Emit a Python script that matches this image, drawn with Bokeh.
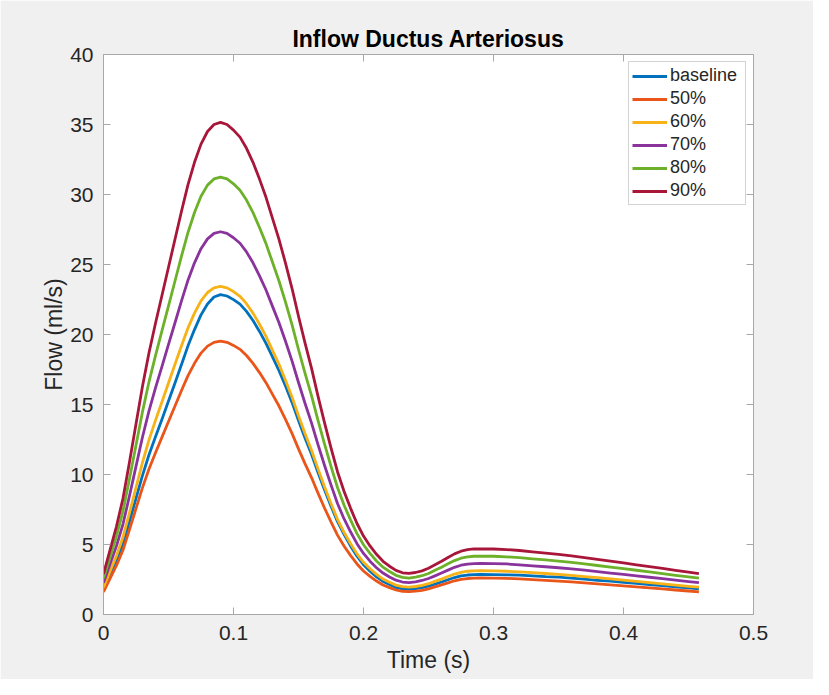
from bokeh.plotting import figure
from bokeh.models import (LinearAxis, FixedTicker, CustomJSTickFormatter, Legend,
                          LegendItem, Range1d)
from bokeh.embed import file_html
from bokeh.resources import INLINE

# ---- data ----
time_s = [0.000, 0.005, 0.010, 0.015, 0.020, 0.025, 0.030, 0.035, 0.040, 0.045,
          0.050, 0.055, 0.060, 0.065, 0.070, 0.075, 0.080, 0.085, 0.090, 0.095,
          0.100, 0.105, 0.110, 0.115, 0.120, 0.125, 0.130, 0.135, 0.140, 0.145,
          0.150, 0.155, 0.160, 0.165, 0.170, 0.175, 0.180, 0.185, 0.190, 0.195,
          0.200, 0.205, 0.210, 0.215, 0.220, 0.225, 0.230, 0.235, 0.240, 0.245,
          0.250, 0.255, 0.260, 0.265, 0.270, 0.275, 0.280, 0.285, 0.290, 0.300,
          0.310, 0.320, 0.330, 0.340, 0.350, 0.360, 0.370, 0.380, 0.390, 0.400,
          0.410, 0.420, 0.430, 0.440, 0.450, 0.458]

flow_baseline = [1.83, 2.85, 3.87, 5.06, 6.65, 8.3, 9.94, 11.41, 12.69, 13.95,
                 15.25, 16.54, 17.86, 19.19, 20.35, 21.4, 22.18, 22.68, 22.85, 22.75,
                 22.49, 22.17, 21.65, 21.0, 20.22, 19.37, 18.4, 17.42, 16.32, 15.15,
                 13.85, 12.61, 11.44, 10.14, 8.91, 7.74, 6.63, 5.72, 4.9, 4.16,
                 3.56, 3.09, 2.69, 2.36, 2.14, 1.94, 1.83, 1.8, 1.85, 1.92,
                 2.02, 2.17, 2.32, 2.48, 2.64, 2.76, 2.82, 2.85, 2.86, 2.85,
                 2.83, 2.81, 2.76, 2.7, 2.67, 2.6, 2.52, 2.44, 2.38, 2.3,
                 2.22, 2.14, 2.07, 1.98, 1.9, 1.84]

flow_50 = [1.61, 2.56, 3.5, 4.61, 6.06, 7.56, 9.06, 10.39, 11.56, 12.67,
           13.78, 14.89, 16.0, 17.06, 17.94, 18.67, 19.17, 19.44, 19.53, 19.44,
           19.22, 18.94, 18.5, 17.94, 17.28, 16.56, 15.72, 14.89, 13.94, 12.94,
           11.83, 10.78, 9.78, 8.67, 7.61, 6.61, 5.67, 4.89, 4.22, 3.61,
           3.11, 2.72, 2.39, 2.11, 1.92, 1.75, 1.66, 1.63, 1.67, 1.73,
           1.83, 1.97, 2.11, 2.26, 2.41, 2.51, 2.57, 2.6, 2.61, 2.6,
           2.58, 2.54, 2.49, 2.44, 2.39, 2.33, 2.26, 2.19, 2.12, 2.04,
           1.97, 1.9, 1.83, 1.75, 1.68, 1.62]

flow_60 = [1.93, 3.07, 4.2, 5.53, 7.27, 9.07, 10.87, 12.47, 13.87, 15.2,
           16.53, 17.87, 19.2, 20.47, 21.53, 22.4, 23.0, 23.33, 23.43, 23.33,
           23.07, 22.73, 22.2, 21.53, 20.73, 19.87, 18.87, 17.87, 16.73, 15.53,
           14.2, 12.93, 11.73, 10.4, 9.13, 7.93, 6.8, 5.87, 5.07, 4.33,
           3.73, 3.27, 2.87, 2.53, 2.3, 2.1, 1.99, 1.95, 2.0, 2.08,
           2.2, 2.37, 2.53, 2.71, 2.89, 3.01, 3.09, 3.12, 3.13, 3.12,
           3.09, 3.05, 2.99, 2.93, 2.87, 2.79, 2.71, 2.63, 2.54, 2.45,
           2.37, 2.28, 2.19, 2.1, 2.01, 1.95]

flow_70 = [2.26, 3.58, 4.9, 6.46, 8.48, 10.58, 12.68, 14.54, 16.18, 17.73,
           19.29, 20.84, 22.4, 23.88, 25.12, 26.13, 26.83, 27.22, 27.34, 27.22,
           26.91, 26.52, 25.9, 25.12, 24.19, 23.18, 22.01, 20.84, 19.52, 18.12,
           16.57, 15.09, 13.69, 12.13, 10.66, 9.26, 7.93, 6.84, 5.91, 5.06,
           4.36, 3.81, 3.34, 2.96, 2.68, 2.45, 2.32, 2.28, 2.33, 2.43,
           2.57, 2.76, 2.96, 3.17, 3.37, 3.52, 3.6, 3.64, 3.65, 3.64,
           3.61, 3.55, 3.48, 3.41, 3.34, 3.26, 3.17, 3.06, 2.96, 2.86,
           2.76, 2.66, 2.56, 2.45, 2.35, 2.27]

flow_80 = [2.58, 4.09, 5.6, 7.38, 9.69, 12.09, 14.49, 16.62, 18.49, 20.27,
           22.04, 23.82, 25.6, 27.29, 28.71, 29.87, 30.67, 31.11, 31.24, 31.11,
           30.76, 30.31, 29.6, 28.71, 27.64, 26.49, 25.16, 23.82, 22.31, 20.71,
           18.93, 17.24, 15.64, 13.87, 12.18, 10.58, 9.07, 7.82, 6.76, 5.78,
           4.98, 4.36, 3.82, 3.38, 3.07, 2.8, 2.65, 2.6, 2.67, 2.77,
           2.93, 3.16, 3.38, 3.62, 3.85, 4.02, 4.12, 4.16, 4.17, 4.16,
           4.12, 4.06, 3.98, 3.9, 3.82, 3.72, 3.62, 3.5, 3.39, 3.27,
           3.16, 3.04, 2.92, 2.8, 2.68, 2.6]

flow_90 = [2.9, 4.6, 6.3, 8.3, 10.9, 13.6, 16.3, 18.7, 20.8, 22.8,
           24.8, 26.8, 28.8, 30.7, 32.3, 33.6, 34.5, 35.0, 35.15, 35.0,
           34.6, 34.1, 33.3, 32.3, 31.1, 29.8, 28.3, 26.8, 25.1, 23.3,
           21.3, 19.4, 17.6, 15.6, 13.7, 11.9, 10.2, 8.8, 7.6, 6.5,
           5.6, 4.9, 4.3, 3.8, 3.45, 3.15, 2.98, 2.93, 3.0, 3.12,
           3.3, 3.55, 3.8, 4.07, 4.33, 4.52, 4.63, 4.68, 4.69, 4.68,
           4.64, 4.57, 4.48, 4.39, 4.3, 4.19, 4.07, 3.94, 3.81, 3.68,
           3.55, 3.42, 3.29, 3.15, 3.02, 2.92]

series_names = ["baseline", "50%", "60%", "70%", "80%", "90%"]
series_values = [flow_baseline, flow_50, flow_60, flow_70, flow_80, flow_90]
series_colors = ["#0072BD", "#EA561A", "#F6B216", "#8A339C", "#6DB12A", "#A8173A"]

x_ticks = [0, 0.1, 0.2, 0.3, 0.4, 0.5]
y_ticks = [0, 5, 10, 15, 20, 25, 30, 35, 40]

FONT = "Liberation Sans"
TXT = "#262626"
AX = "#a8a8a8"

p = figure(width=813, height=679, output_backend="svg", toolbar_location=None,
           x_range=Range1d(0, 0.5), y_range=Range1d(0, 40),
           min_border_left=103, min_border_right=60, min_border_top=54,
           min_border_bottom=65, x_axis_location=None, y_axis_location=None)
p.border_fill_color = "#f0f0f0"
p.background_fill_color = "white"
p.outline_line_color = AX
p.outline_line_width = 1
p.xgrid.visible = False
p.ygrid.visible = False

p.title.text = "Inflow Ductus Arteriosus"
p.title.align = "center"
p.title.text_font = FONT
p.title.text_font_size = "23px"
p.title.text_font_style = "bold"
p.title.text_color = "black"
p.title.standoff = 5

fmt = CustomJSTickFormatter(code="return Number(tick.toFixed(2)).toString();")


def style_axis(ax, ticks, show_labels):
    ax.ticker = FixedTicker(ticks=ticks)
    ax.formatter = fmt
    ax.axis_line_color = AX
    ax.major_tick_line_color = AX
    ax.major_tick_in = 7
    ax.major_tick_out = 0
    ax.minor_tick_line_color = None
    ax.major_label_text_font = FONT
    ax.major_label_text_color = TXT
    ax.axis_label_text_font = FONT
    ax.axis_label_text_color = TXT
    ax.axis_label_text_font_style = "normal"
    if show_labels:
        ax.major_label_text_font_size = "21px"
        ax.axis_label_text_font_size = "23px"
    else:
        ax.major_label_text_font_size = "0px"
        ax.major_label_standoff = 0


xb = LinearAxis(axis_label="Time (s)")
style_axis(xb, x_ticks, True)
xb.major_label_standoff = 11
xb.axis_label_standoff = 4
p.add_layout(xb, "below")

yl = LinearAxis(axis_label="Flow (ml/s)")
style_axis(yl, y_ticks, True)
yl.major_label_standoff = 10
yl.axis_label_standoff = 0
p.add_layout(yl, "left")

xt = LinearAxis()
style_axis(xt, x_ticks, False)
p.add_layout(xt, "above")

yr = LinearAxis()
style_axis(yr, y_ticks, False)
p.add_layout(yr, "right")

items = []
for name, vals, col in zip(series_names, series_values, series_colors):
    r = p.line(time_s, vals, line_color=col, line_width=2.8, line_join="round")
    items.append(LegendItem(label=name, renderers=[r]))

legend = Legend(items=items, location="top_right")
legend.margin = 7
legend.padding = 3
legend.spacing = 2
legend.glyph_width = 35
legend.glyph_height = 20
legend.label_height = 20
legend.label_standoff = 3
legend.label_width = 72
legend.label_text_font = FONT
legend.label_text_font_size = "18px"
legend.label_text_color = TXT
legend.border_line_color = AX
legend.border_line_width = 1
legend.background_fill_color = "white"
legend.background_fill_alpha = 1
p.add_layout(legend, "center")

open("out.html", "w").write(file_html(p, INLINE))
